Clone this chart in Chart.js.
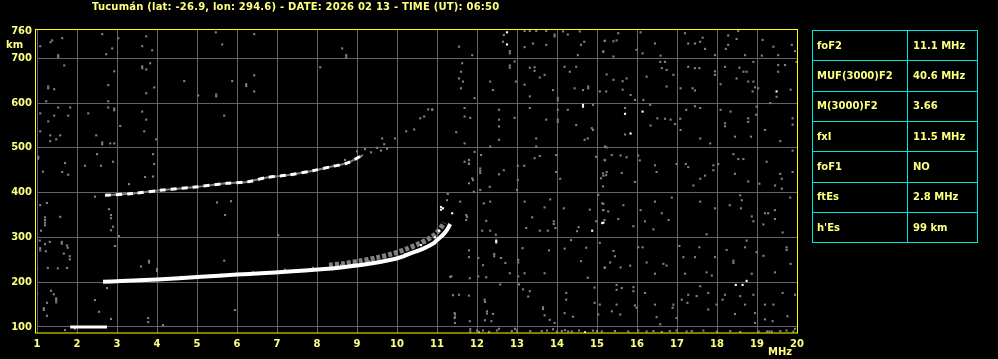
<!DOCTYPE html>
<html>
<head>
<meta charset="utf-8">
<script src="https://cdn.jsdelivr.net/npm/chart.js@4.4.0/dist/chart.umd.min.js"></script>
<style>
  html, body { margin: 0; padding: 0; background: #000; overflow: hidden; }
  #wrap { position: relative; width: 998px; height: 359px; }
</style>
</head>
<body>
<div id="wrap"><canvas id="iono" width="998" height="359"></canvas></div>
<script>
// ---- data ----
const titleText = 'Tucumán (lat: -26.9, lon: 294.6) - DATE: 2026 02 13 - TIME (UT): 06:50';
const yTicks = [100, 200, 300, 400, 500, 600, 700, 760];
const tableLabels = ['foF2', 'MUF(3000)F2', 'M(3000)F2', 'fxI', 'foF1', 'ftEs', "h'Es"];
const tableValues = ['11.1 MHz', '40.6 MHz', '3.66', '11.5 MHz', 'NO', '2.8 MHz', '99 km'];

// F2 trace (MHz, km)
const f2Trace = [[2.65,201],[3.1,202.5],[4.0,206],[5.1,212],[6.0,217],[6.6,220],[7.3,224],[8.1,229],[8.6,233],
  [9.1,238.5],[9.5,244],[9.85,250],[10.1,256],[10.35,265],[10.55,271],[10.75,279],[10.9,286],[11.0,294],
  [11.15,306],[11.25,317],[11.33,330]];
const f2Fringe = [[8.3,238],[8.7,242],[9.1,248],[9.5,255],[9.9,264],[10.2,273],[10.5,284],[10.75,295],
  [10.95,307],[11.08,320],[11.18,333]];
// second hop
const f2Hop = [[2.7,394],[3.4,398],[4.15,406],[4.9,412],[5.75,421],[6.25,424],[6.75,434],[7.25,439],
  [7.9,449],[8.4,459],[8.75,466],[9.15,484]];
// sporadic E
const esTrace = [[1.83,100],[2.3,100],[2.75,100]];

const whiteDots = [[14.65,596],[14.65,592],[14.88,315],[15.13,332],[12.48,293],[12.48,289],[11.15,365],
  [11.38,354],[12.75,758],[12.75,731],[15.7,576],[15.84,532],[16.14,581],[15.16,333],[19.49,626],
  [18.47,194],[18.64,194],[18.74,203],[14.7,88],[11.1,368],[11.1,362],[9.6,244],[10.2,262],[10.6,283],
  [10.95,300],[11.05,315],[8.9,239]];

const noise = [
  [1.08,727],[1.34,736],[1.38,740],[1.63,745],[1.53,707],[1.53,703],[2.63,754],[2.73,709],[2.88,722],[3.03,745],
  [3.63,727],[3.73,749],[3.88,718],[5.47,758],[5.63,731],[6.43,754],[8.63,722],[8.73,707],[8.73,702],
  [1.68,684],[1.28,637],[1.28,633],[1.43,631],[1.23,604],[2.93,671],[2.78,640],[2.78,604],[3.63,682],[3.63,678],
  [3.73,675],[3.83,689],[3.93,635],[3.73,622],[4.68,649],[5.03,617],[5.48,619],[5.48,615],[5.88,649],[6.23,642],
  [6.23,638],[6.43,662],[6.43,626],[8.08,680],
  [1.08,577],[1.53,590],[1.83,590],[1.43,572],[1.78,572],[1.28,559],[1.08,537],[1.33,528],[1.48,519],[1.58,528],
  [1.33,515],[2.28,577],[2.48,528],[2.63,512],[2.63,508],[2.78,590],[2.93,588],[2.93,584],[2.83,510],[2.93,510],
  [3.08,549],[3.63,581],[3.73,563],[3.68,537],[3.98,519],[5.68,572],
  [1.15,447],[1.63,446],[1.78,440],[1.7,466],[1.03,480],[1.03,476],[2.5,486],[2.2,460],[2.6,460],[2.9,469],
  [3.9,486],[3.93,464],[3.9,436],[3.7,435],[3.3,419],
  [1.2,345],[1.2,339],[1.2,333],[1.2,327],[1.08,372],[1.25,377],[1.58,346],[1.1,315],[2.8,363],[2.85,350],
  [2.85,343],[2.45,391],[2.9,324],[2.85,316],[3.05,303],[5.5,378],[5.85,381],[5.7,350],[7.03,305],
  [1.07,293],[1.32,290],[1.2,285],[1.08,276],[1.08,271],[1.22,269],[1.62,290],[1.62,286],[1.75,282],[1.77,277],
  [1.67,264],[1.82,258],[1.82,251],[1.27,232],[1.52,231],[1.75,232],[1.0,230],[2.95,281],[3.6,235],[3.8,248],
  [3.8,244],[4.0,229],[4.0,225],[5.68,248],
  [1.35,181],[1.42,173],[1.48,164],[1.48,160],[1.17,142],[1.17,138],[1.0,175],[2.75,187],[1.25,154],[1.48,155],
  [1.25,125],[2.45,160],[2.55,134],[2.85,118],[3.78,120],[3.78,111],[4.15,104],[5.95,138],[1.7,93],[1.95,96],
  [11.8,473],[11.8,464],[11.75,346],[11.9,428],[11.25,383],[11.33,212],[11.4,171],[11.45,129],[11.45,123],
  [11.45,109],[11.83,95],[11.83,90],[12.2,156],[12.4,129],[12.2,115],
  [9.63,521],[9.68,508],[9.95,521],[10.23,537],[10.43,541],[10.58,566],[10.68,570],[10.78,586],[10.88,586],
  [9.0,492],[9.2,497],[9.35,490],[9.5,500],[9.6,494],[9.75,498],[8.7,473],
  [9.3,247],[9.7,255],[10.0,262],[10.4,276],[10.7,288],[8.6,238],[7.9,232],[7.2,228],[6.4,222],[5.6,217],
  [4.6,212],[3.6,207],
  [12.67,752],[12.65,737],[12.82,711],[12.82,716],[11.55,726],[11.88,707],[13.19,761],[13.32,761],[13.48,761],
  [13.73,761],[13.94,753],[13.94,749],[14.15,760],[14.27,753],[14.57,760],[14.6,730],[14.68,737],[13.73,730],
  [13.4,733],[13.19,725],[14.52,707],[15.19,739],[15.15,715],
  [11.63,689],[11.6,670],[11.55,655],[11.65,648],[11.6,633],[12.33,648],[12.4,629],[11.94,611],[12.82,679],
  [12.82,684],[12.94,693],[12.97,648],[13.19,641],[13.32,679],[13.44,680],[13.44,672],[13.57,657],[13.69,663],
  [13.32,615],[13.9,629],[14.02,611],[14.02,606],[14.19,681],[14.48,681],[14.32,670],[14.44,633],[14.65,629],
  [14.78,637],[14.78,633],[14.9,596],[15.07,626],[15.23,626],
  [10.88,585],[11.69,589],[11.69,570],[11.83,567],[11.48,535],[11.69,510],[12.33,503],[12.55,585],[12.55,563],
  [12.55,548],[12.55,518],[12.94,567],[13.32,589],[13.48,521],[13.48,503],[13.73,563],[14.02,585],[14.02,563],
  [14.02,558],[14.27,585],[14.48,551],[14.69,518],[14.77,521],[14.87,544],[14.9,540],[15.2,503],
  [11.94,491],[12.1,484],[12.08,454],[12.08,449],[12.08,444],[11.69,469],[11.8,465],[11.88,432],[11.8,421],
  [11.92,402],[12.08,406],[12.32,413],[12.55,441],[12.67,450],[13.02,460],[13.18,460],[13.02,428],[13.0,406],
  [13.44,477],[13.57,482],[13.98,484],[13.98,446],[14.08,431],[14.98,480],[15.19,473],[15.15,443],[15.23,439],
  [15.1,432],[15.15,414],
  [11.27,397],[11.58,380],[11.73,350],[11.73,339],[12.17,376],[12.33,380],[12.23,337],[12.13,315],[12.33,315],
  [12.47,306],[13.19,380],[13.69,367],[13.83,385],[13.38,345],[13.23,321],[13.57,315],[13.77,315],[13.92,336],
  [13.92,330],[13.96,321],[14.17,365],[14.54,323],[14.5,314],[14.82,362],[14.98,336],[15.03,395],[15.13,376],
  [15.15,361],[15.19,339],
  [11.8,271],[11.8,256],[12.03,254],[12.03,213],[11.82,209],[11.36,213],[12.43,263],[12.43,258],[12.6,254],
  [12.71,243],[12.15,238],[12.23,211],[12.82,220],[13.03,250],[13.03,244],[13.03,213],[13.14,276],[13.19,220],
  [13.69,220],[13.8,271],[14.19,275],[14.35,294],[14.6,247],[14.73,277],[14.77,210],[15.07,288],[15.19,232],
  [11.55,172],[11.8,170],[12.19,161],[12.25,135],[12.25,130],[11.44,131],[11.44,120],[11.82,113],[12.36,113],
  [12.58,195],[13.05,195],[13.15,184],[13.32,180],[13.28,168],[13.65,144],[13.65,140],[13.69,126],[13.82,116],
  [13.94,109],[14.23,176],[14.23,161],[14.19,131],[14.4,123],[14.94,188],[14.94,154],[15.07,150],[15.03,128],
  [15.2,739],[15.41,738],[15.49,740],[15.53,756],[15.16,715],[15.41,704],[16.09,758],[15.99,719],[16.14,711],
  [16.45,733],[16.59,706],[17.2,756],[17.28,733],[17.45,733],[17.64,746],[17.58,737],[17.7,721],[17.95,707],
  [18.28,751],[18.28,730],[18.49,743],[18.53,761],[18.22,721],[18.7,707],[19.14,741],[19.41,726],[19.12,706],
  [19.53,707],[19.95,716],[19.87,730],
  [15.24,664],[15.41,652],[15.64,649],[15.64,630],[15.74,655],[15.84,618],[15.95,607],[16.16,607],[16.24,659],
  [16.58,692],[16.7,692],[16.62,678],[16.74,674],[16.74,637],[16.91,663],[17.09,633],[17.28,681],[17.45,678],
  [17.56,678],[17.39,633],[17.45,628],[17.95,671],[17.95,663],[18.09,642],[18.2,681],[18.49,655],[18.56,679],
  [18.66,670],[18.74,670],[18.78,648],[18.91,648],[18.91,692],[18.95,635],[18.89,626],[19.03,633],[19.53,685],
  [19.53,670],[19.49,614],[19.7,685],[19.84,630],[19.99,692],
  [15.7,589],[15.7,530],[16.33,596],[16.34,550],[16.51,566],[16.7,565],[16.84,563],[16.95,553],[17.08,565],
  [17.09,540],[17.23,585],[17.58,589],[17.58,521],[17.45,593],[17.83,510],[18.09,585],[18.2,555],[18.2,548],
  [18.34,581],[18.45,525],[18.78,566],[18.78,558],[18.85,525],[18.98,574],[18.99,592],[19.2,540],[19.33,600],
  [19.58,515],[19.89,566],[19.89,552],
  [15.24,501],[15.37,484],[15.2,472],[15.24,446],[15.16,438],[15.59,483],[15.62,444],[15.74,479],[15.95,424],
  [16.03,483],[16.07,472],[16.49,446],[16.45,461],[16.99,464],[17.22,464],[17.28,457],[17.41,416],[17.58,431],
  [17.7,438],[17.91,450],[17.91,461],[18.03,464],[18.41,486],[18.53,475],[18.66,475],[18.45,442],[18.78,425],
  [19.06,420],[19.24,469],[19.58,442],[19.62,431],[19.45,416],[19.62,409],[19.89,446],[19.89,494],
  [15.16,375],[15.16,361],[15.28,358],[15.53,341],[15.66,372],[15.91,325],[16.09,361],[16.2,336],[16.41,318],
  [16.45,380],[16.62,354],[16.79,339],[16.87,389],[17.58,380],[17.74,307],[17.95,365],[18.32,372],[18.58,394],
  [18.62,383],[18.6,365],[18.87,347],[18.91,336],[19.2,354],[19.28,354],[19.45,361],[19.45,341],[19.16,329],
  [19.64,311],[19.83,389],
  [15.41,270],[15.45,258],[15.33,244],[15.2,233],[15.59,233],[15.83,237],[16.03,278],[16.14,278],[16.24,244],
  [16.45,219],[16.66,241],[16.74,237],[17.06,281],[17.16,256],[17.2,219],[17.45,256],[17.56,278],[17.74,222],
  [17.87,215],[17.95,256],[18.24,272],[18.41,248],[18.41,243],[18.7,278],[18.74,293],[18.87,219],[18.99,267],
  [19.16,259],[19.45,222],[19.74,278],[19.74,272],[19.84,241],
  [15.49,194],[15.49,183],[15.62,187],[15.91,189],[15.91,180],[15.49,150],[15.37,135],[15.58,128],[15.95,148],
  [15.99,143],[16.2,176],[16.45,150],[16.49,122],[16.58,106],[16.91,150],[16.89,143],[16.99,120],[17.12,161],
  [17.28,172],[17.26,154],[17.49,169],[17.58,191],[17.78,176],[17.78,139],[17.99,150],[18.14,161],[18.2,172],
  [18.45,129],[18.58,169],[18.7,150],[18.91,172],[18.95,131],[18.95,109],[19.2,117],[19.39,113],[19.2,150],
  [19.41,150],[19.64,176],[19.76,124],[19.95,172],
  [12.0,92],[12.05,89],[12.15,92],[12.3,89],[12.5,92],[12.87,91],[13.0,92],[13.33,91],[13.62,91],[13.75,92],
  [14.0,90],[14.12,91],[14.2,93],[14.28,90],[14.37,90],[14.55,92],[14.9,92],[12.95,96],[12.55,96],[13.9,95],
  [15.0,91],[15.12,90],[15.45,91],[15.78,90],[16.03,92],[16.24,90],[16.41,91],[16.62,89],[16.82,91],[16.99,92],
  [17.24,90],[17.37,91],[17.66,92],[18.0,90],[18.33,91],[18.58,89],[19.04,90],[19.25,90],[19.31,90],[19.37,90],
  [19.58,91],[19.74,92],[19.91,90],[19.95,96]
];

// ---- colours ----
const yellowText = '#ffff80';
const yellowLine = '#ffff00';
const gridGray = '#646464';
const dotGray = '#808080';
const cyan = '#00e4e4';
const fontFam = '"DejaVu Sans", sans-serif';

const toXY = arr => arr.map(p => ({ x: p[0], y: p[1] }));

const decorPlugin = {
  id: 'decor',
  afterDraw(chart) {
    const ctx = chart.ctx;
    const a = chart.chartArea;
    ctx.save();
    // plot frame
    ctx.strokeStyle = yellowLine;
    ctx.lineWidth = 1;
    ctx.strokeRect(a.left - 1.5, a.top - 0.5, a.right - a.left + 2, a.bottom - a.top + 0.5);
    // title and unit labels
    ctx.fillStyle = yellowText;
    ctx.font = 'bold 10px ' + fontFam;
    ctx.textBaseline = 'middle';
    ctx.textAlign = 'left';
    ctx.letterSpacing = '0.2px';
    ctx.fillText(titleText, 92, 7);
    ctx.letterSpacing = '0px';
    ctx.fillText('km', 6, 45);
    ctx.fillText('MHz', 768, 352);
    // parameter table
    const tx0 = 812, tx1 = 907, tx2 = 977, ty0 = 30, rowH = 30.3;
    ctx.strokeStyle = cyan;
    ctx.beginPath();
    for (let i = 0; i <= tableLabels.length; i++) {
      const y = Math.round(ty0 + i * rowH) + 0.5;
      ctx.moveTo(tx0, y); ctx.lineTo(tx2 + 1, y);
    }
    [tx0, tx1, tx2].forEach(x => {
      ctx.moveTo(x + 0.5, ty0); ctx.lineTo(x + 0.5, Math.round(ty0 + tableLabels.length * rowH) + 1);
    });
    ctx.stroke();
    tableLabels.forEach((lab, i) => {
      const yc = ty0 + (i + 0.5) * rowH + 1;
      ctx.fillText(lab, tx0 + 5, yc);
      ctx.fillText(tableValues[i], tx1 + 6, yc);
    });
    ctx.restore();
  }
};

new Chart(document.getElementById('iono'), {
  type: 'scatter',
  data: {
    datasets: [
      { data: toXY(whiteDots), pointStyle: 'rect', pointRadius: 1.5, backgroundColor: '#fff', borderWidth: 0 },
      { data: toXY(esTrace), showLine: true, borderColor: '#fff', borderWidth: 3, pointRadius: 0 },
      { data: toXY(f2Trace), showLine: true, borderColor: '#fff', borderWidth: 4, tension: 0.3, pointRadius: 0 },
      { data: toXY(f2Fringe), showLine: true, borderColor: dotGray, borderWidth: 5, borderDash: [4, 2], tension: 0.3, pointRadius: 0 },
      { data: toXY(f2Hop), showLine: true, borderColor: '#fff', borderWidth: 3, borderDash: [6, 5], tension: 0.3, pointRadius: 0 },
      { data: toXY(f2Hop), showLine: true, borderColor: dotGray, borderWidth: 2, tension: 0.3, pointRadius: 0 },
      { data: toXY(noise), pointStyle: 'rect', pointRadius: 1.5, backgroundColor: dotGray, borderWidth: 0 }
    ]
  },
  options: {
    responsive: false,
    animation: false,
    devicePixelRatio: 1,
    layout: { padding: { top: 30, right: 201, left: 0, bottom: 0 } },
    plugins: { legend: { display: false }, tooltip: { enabled: false } },
    scales: {
      x: {
        type: 'linear', min: 1, max: 20,
        ticks: { stepSize: 1, color: yellowText, font: { family: fontFam, size: 10, weight: 'bold' }, padding: 5, maxRotation: 0 },
        grid: { color: gridGray, drawTicks: false, lineWidth: 1 },
        border: { display: false },
        afterFit: s => { s.height = 26; }
      },
      y: {
        type: 'linear', min: 86.6, max: 763.2,
        afterBuildTicks: s => { s.ticks = yTicks.map(v => ({ value: v })); },
        ticks: { color: yellowText, font: { family: fontFam, size: 10, weight: 'bold' }, padding: 5 },
        grid: { color: c => (c.tick && c.tick.value === 760 ? 'rgba(0,0,0,0)' : gridGray), drawTicks: false, lineWidth: 1 },
        border: { display: false },
        afterFit: s => { s.width = 37; }
      }
    }
  },
  plugins: [decorPlugin]
});
</script>
</body>
</html>
